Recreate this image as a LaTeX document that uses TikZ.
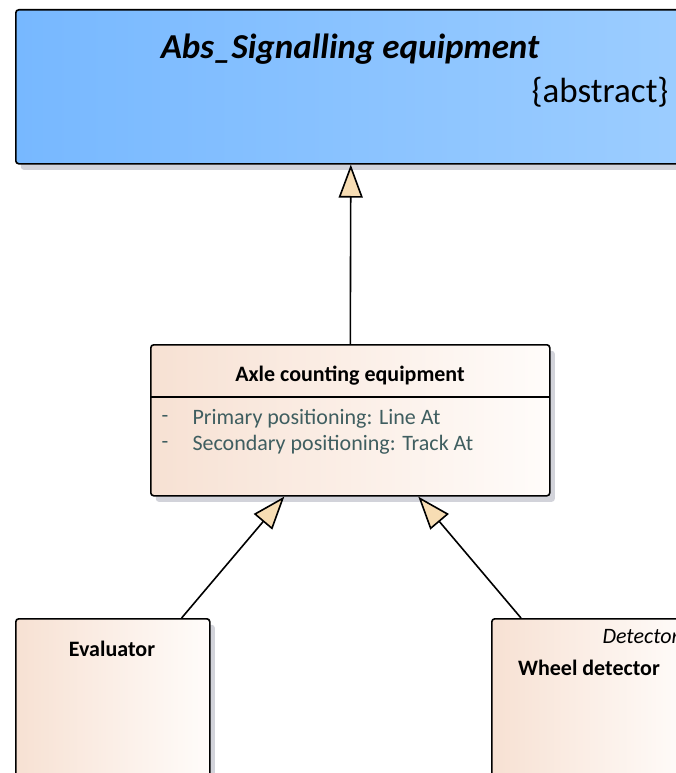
\documentclass[tikz,border=0pt]{standalone}
\usepackage{fontspec}
\setmainfont{Carlito}
\usetikzlibrary{arrows.meta,shadows}

\definecolor{absBlueL}{HTML}{77B8FF}
\definecolor{absBlueR}{HTML}{9CCDFF}
\definecolor{peachL}{HTML}{F7E1D3}
\definecolor{peachR}{HTML}{FFFCFA}
\definecolor{tipPeach}{HTML}{F7DDB4}
\definecolor{attrGray}{HTML}{3F5E60}
\definecolor{shadowGray}{HTML}{D2D3DA}

\begin{document}
\begin{tikzpicture}[x=1pt,y=-1pt,
        umlbox/.style={draw=black, line width=1.6pt, rounded corners=3pt, rectangle, inner sep=0pt,
            drop shadow={shadow xshift=5pt, shadow yshift=-6pt, fill=shadowGray, opacity=1}},
        peachbox/.style={umlbox, left color=peachL, right color=peachR},
        bigtext/.style={font=\fontsize{35}{40}\selectfont #1},
        boxtext/.style={font=\fontsize{22}{26}\selectfont #1},
        generalize/.style={-{Triangle[length=33pt,width=24pt,fill=tipPeach]}, line width=1.6pt}]
            \clip (0,0) rectangle (676,773);
            \fill[white] (0,0) rectangle (676,773);

            \node[umlbox, left color=absBlueL, right color=absBlueR, minimum width=670pt, minimum height=154pt, anchor=north west] (absEq) at (15,9) {};
            \node[bigtext=\bfseries\itshape] (absTitle) at (350,49) {Abs\_Signalling equipment};
            \node[bigtext=\relax, anchor=east] (absTag) at (672,92) {\{abstract\}};

            \node[peachbox, minimum width=399pt, minimum height=151pt, anchor=north west] (axle) at (150,344) {};
            \draw[line width=1.6pt] (150,397) -- (549,397);
            \node[boxtext=\bfseries] (axleTitle) at (350,376) {Axle counting equipment};
            \node[boxtext=\relax, text=attrGray, anchor=west] (dashA) at (158,419) {-};
            \node[boxtext=\relax, text=attrGray, anchor=west] (attrA) at (189,419) {Primary positioning: Line At};
            \node[boxtext=\relax, text=attrGray, anchor=west] (dashB) at (158,445) {-};
            \node[boxtext=\relax, text=attrGray, anchor=west] (attrB) at (189,445) {Secondary positioning: Track At};

            \node[peachbox, minimum width=194pt, minimum height=200pt, anchor=north west] (evaluator) at (15,618) {};
            \node[boxtext=\bfseries] (evalTitle) at (112,649) {Evaluator};

            \node[peachbox, minimum width=196pt, minimum height=200pt, anchor=north west] (wheel) at (491,618) {};
            \node[boxtext=\itshape, anchor=west] (wheelTag) at (599,637) {Detector};
            \node[boxtext=\bfseries] (wheelTitle) at (589,668) {Wheel detector};

            \draw[generalize] (axle.north) -- (absEq.south);
            \draw[generalize] ([xshift=-29pt]evaluator.north east) -- ([xshift=-66pt]axle.south);
            \draw[generalize] ([xshift=30pt]wheel.north west) -- ([xshift=68pt]axle.south);
        \end{tikzpicture}
\end{document}
